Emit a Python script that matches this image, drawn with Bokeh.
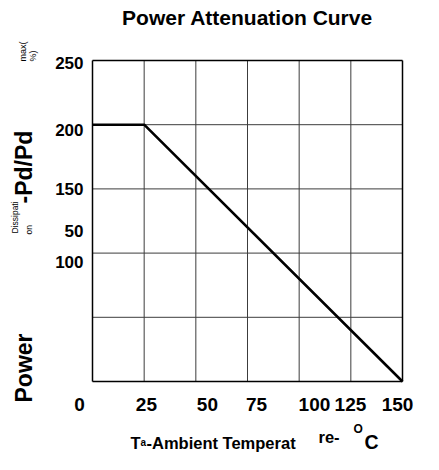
import numpy as np
from bokeh.plotting import figure
from bokeh.models import Range1d
from bokeh.core.properties import value
from bokeh.embed import file_html
from bokeh.resources import INLINE

# ---- data ----
temperature = [0, 25, 150]          # Ta (degC)
power_pct = [200, 200, 0]           # Pd/Pdmax (%)
x_grid_values = [0, 25, 50, 75, 100, 125, 150]
y_grid_values = [0, 50, 100, 150, 200, 250]
x_tick_values = [-6.3, 26.1, 55.6, 79.4, 107.4, 124.8, 147.6]
x_tick_labels = ["0", "25", "50", "75", "100", "125", "150"]
y_tick_values = [248, 196, 150, 117, 93]
y_tick_labels = ["250", "200", "150", "50", "100"]
title_text = "Power Attenuation Curve"

FONT = "Liberation Sans"
W, H = 431, 462
# box placement on the canvas (px)
FL, FR, FT, FB = 92, 402, 60, 381
XMIN, XMAX = x_grid_values[0], x_grid_values[-1]
YMIN, YMAX = y_grid_values[0], y_grid_values[-1]


def dx(px):
    return XMIN + (px - FL) * (XMAX - XMIN) / (FR - FL)


def dy(py):
    return YMIN + (FB - py) * (YMAX - YMIN) / (FB - FT)


p = figure(width=W, height=H,
           x_range=Range1d(dx(0), dx(W)), y_range=Range1d(dy(H), dy(0)),
           x_axis_location=None, y_axis_location=None, min_border=0,
           output_backend="svg", toolbar_location=None)
p.outline_line_color = None
p.grid.visible = False
p.background_fill_color = "white"
p.border_fill_color = "white"

# inner grid
ix = x_grid_values[1:-1]
p.segment(x0=ix, y0=[YMIN] * len(ix), x1=ix, y1=[YMAX] * len(ix),
          line_color="#3c3c3c", line_width=1)
iy = y_grid_values[1:-1]
p.segment(x0=[XMIN] * len(iy), y0=iy, x1=[XMAX] * len(iy), y1=iy,
          line_color="#3c3c3c", line_width=1)
# box border
p.segment(x0=[XMIN, XMAX, XMIN, XMIN], y0=[YMIN, YMIN, YMIN, YMAX],
          x1=[XMIN, XMAX, XMAX, XMAX], y1=[YMAX, YMAX, YMIN, YMAX],
          line_color="black", line_width=1.5)

# curve
p.line(temperature, power_pct, line_width=2.6, line_color="black")


def txt(xs, ys, texts, size, bold=True, align="left", baseline="alphabetic", angle=0.0):
    p.text(x=xs, y=ys, text=texts, angle=angle,
           text_font=value(FONT), text_font_size=value(size),
           text_font_style=value("bold" if bold else "normal"),
           text_align=value(align), text_baseline=value(baseline),
           text_color=value("black"))


# title
txt([(XMIN + XMAX) / 2], [dy(17)], [title_text], "21px", align="center")

# tick labels
txt([dx(83)] * len(y_tick_values), y_tick_values, y_tick_labels, "17px",
    align="right", baseline="middle")
txt(x_tick_values, [dy(404)] * len(x_tick_values), x_tick_labels, "19px",
    align="center")

# x-axis title pieces
txt([dx(130)], [dy(442)], ["T"], "16.5px")
txt([dx(140)], [dy(442)], ["a"], "10px")
txt([dx(146)], [dy(442)], ["-Ambient Temperat"], "16.5px")
txt([dx(318)], [dy(436)], ["re-"], "16.5px")
txt([dx(353)], [dy(428)], ["O"], "12px")
txt([dx(364)], [dy(441)], ["C"], "19.5px")

# y-axis title pieces (rotated, reading upwards)
r = np.pi / 2
txt([dx(23)], [dy(402)], ["Power"], "23px", angle=r)
txt([dx(23)], [dy(203)], ["-Pd/Pd"], "23px", angle=r)
txt([dx(14)], [dy(233)], ["Dissipati"], "8.5px", bold=False, angle=r)
txt([dx(28)], [dy(234)], ["on"], "8.5px", bold=False, angle=r)
txt([dx(22)], [dy(61)], ["max("], "9px", bold=False, angle=r)
txt([dx(32)], [dy(61)], ["%)"], "9px", bold=False, angle=r)

open("out.html", "w").write(file_html(p, INLINE))
